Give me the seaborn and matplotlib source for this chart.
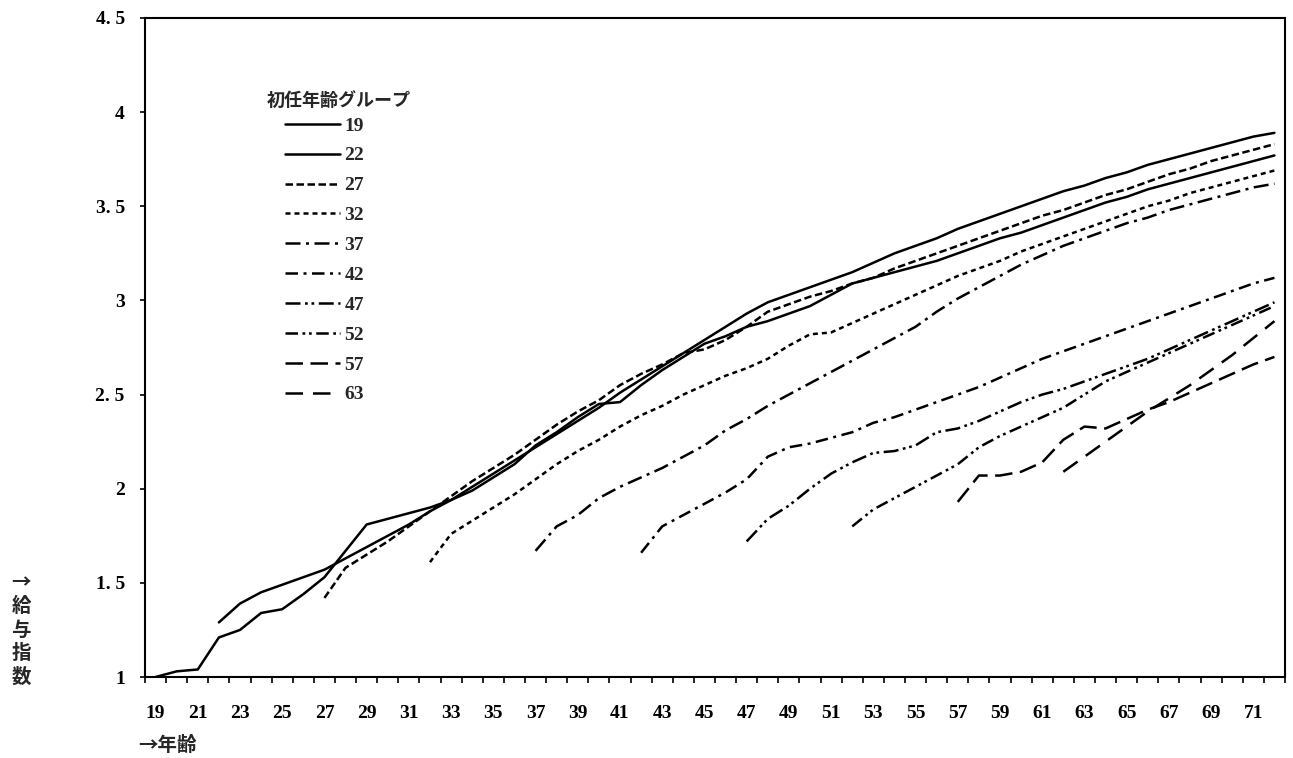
import numpy as np
import pandas as pd
import matplotlib
matplotlib.use("Agg")
import matplotlib.pyplot as plt
from matplotlib.ticker import FixedLocator
import seaborn as sns

# ---- data ----
groups = ["19", "22", "27", "32", "37", "42", "47", "52", "57", "63"]
start_ages = [19, 22, 27, 32, 37, 42, 47, 52, 57, 62]

s19 = [1.00, 1.03, 1.04, 1.21, 1.25, 1.34, 1.36, 1.44, 1.53, 1.67,
       1.81, 1.84, 1.87, 1.90, 1.94, 1.99, 2.06, 2.13, 2.23, 2.30,
       2.38, 2.45, 2.46, 2.55, 2.63, 2.70, 2.77, 2.81, 2.86, 2.89,
       2.93, 2.97, 3.03, 3.09, 3.12, 3.15, 3.18, 3.21, 3.25, 3.29,
       3.33, 3.36, 3.40, 3.44, 3.48, 3.52, 3.55, 3.59, 3.62, 3.65,
       3.68, 3.71, 3.74, 3.77]
s22 = [1.29, 1.39, 1.45, 1.49, 1.53, 1.57, 1.63, 1.69, 1.75, 1.81,
       1.88, 1.94, 2.01, 2.08, 2.15, 2.22, 2.29, 2.36, 2.43, 2.51,
       2.58, 2.65, 2.72, 2.79, 2.86, 2.93, 2.99, 3.03, 3.07, 3.11,
       3.15, 3.20, 3.25, 3.29, 3.33, 3.38, 3.42, 3.46, 3.50, 3.54,
       3.58, 3.61, 3.65, 3.68, 3.72, 3.75, 3.78, 3.81, 3.84, 3.87,
       3.89]
s27 = [1.42, 1.58, 1.65, 1.72, 1.80, 1.88, 1.96, 2.04, 2.11, 2.18,
       2.26, 2.34, 2.41, 2.47, 2.55, 2.61, 2.66, 2.72, 2.74, 2.79,
       2.86, 2.94, 2.98, 3.02, 3.05, 3.09, 3.12, 3.17, 3.21, 3.25,
       3.29, 3.33, 3.37, 3.41, 3.45, 3.48, 3.52, 3.56, 3.59, 3.63,
       3.67, 3.70, 3.74, 3.77, 3.80, 3.83]
s32 = [1.61, 1.76, 1.83, 1.90, 1.97, 2.05, 2.13, 2.20, 2.26, 2.33,
       2.39, 2.44, 2.50, 2.55, 2.60, 2.64, 2.69, 2.76, 2.82, 2.83,
       2.88, 2.93, 2.98, 3.03, 3.08, 3.13, 3.17, 3.21, 3.26, 3.30,
       3.34, 3.38, 3.42, 3.46, 3.50, 3.53, 3.57, 3.60, 3.63, 3.66,
       3.69]
s37 = [1.67, 1.80, 1.86, 1.95, 2.01, 2.06, 2.11, 2.17, 2.23, 2.31,
       2.37, 2.44, 2.50, 2.56, 2.62, 2.68, 2.74, 2.80, 2.86, 2.94,
       3.01, 3.07, 3.13, 3.19, 3.24, 3.29, 3.33, 3.37, 3.41, 3.44,
       3.48, 3.51, 3.54, 3.57, 3.60, 3.62]
s42 = [1.66, 1.80, 1.86, 1.92, 1.98, 2.05, 2.17, 2.22, 2.24, 2.27,
       2.30, 2.35, 2.38, 2.42, 2.46, 2.50, 2.54, 2.59, 2.64, 2.69,
       2.73, 2.77, 2.81, 2.85, 2.89, 2.93, 2.97, 3.01, 3.05, 3.09,
       3.12]
s47 = [1.72, 1.84, 1.91, 2.00, 2.08, 2.14, 2.19, 2.20, 2.23, 2.30,
       2.32, 2.36, 2.41, 2.46, 2.50, 2.53, 2.57, 2.61, 2.65, 2.69,
       2.74, 2.79, 2.84, 2.89, 2.94, 2.99]
s52 = [1.80, 1.89, 1.95, 2.01, 2.07, 2.13, 2.22, 2.28, 2.33, 2.38,
       2.43, 2.50, 2.57, 2.62, 2.67, 2.72, 2.77, 2.82, 2.87, 2.92,
       2.97]
s57 = [1.93, 2.07, 2.07, 2.09, 2.14, 2.26, 2.33, 2.32, 2.37, 2.42,
       2.46, 2.51, 2.56, 2.61, 2.66, 2.70]
s63 = [2.09, 2.17, 2.25, 2.33, 2.41, 2.48, 2.55, 2.63, 2.71, 2.80,
       2.89]

series = [s19, s22, s27, s32, s37, s42, s47, s52, s57, s63]
x_tick_labels = [str(a) for a in range(19, 72, 2)]
y_ticks = [1, 1.5, 2, 2.5, 3, 3.5, 4, 4.5]
y_tick_labels = ["1", "1. 5", "2", "2. 5", "3", "3. 5", "4", "4. 5"]

rows = []
for g, st, vals in zip(groups, start_ages, series):
    for i, v in enumerate(vals):
        rows.append({"group": g, "age": st + i, "value": v})
df = pd.DataFrame(rows)

# ---- style ----
sns.set_theme(style="white")
plt.rcParams['font.family'] = ['Liberation Serif', 'Noto Sans CJK JP']

W, H = 1293, 758
fig = plt.figure(figsize=(W / 100, H / 100), dpi=100)
ax = fig.add_axes([145 / W, 1 - 677 / H, (1285 - 145) / W, (677 - 18) / H])

dashes = {
    "19": "",
    "22": "",
    "27": (3, 1.4),
    "32": (2, 1.6),
    "37": (6, 2.2, 1.2, 2.2),
    "42": (5, 2.2, 1.2, 2.2),
    "47": (6, 1.8, 1.1, 1.5, 1.1, 1.8),
    "52": (5, 1.8, 1.1, 1.5, 1.1, 1.8),
    "57": (7, 3),
    "63": (7, 4),
}
palette = {g: "black" for g in groups}

sns.lineplot(data=df, x="age", y="value", hue="group", style="group",
             hue_order=groups, style_order=groups, palette=palette,
             dashes=dashes, linewidth=1.8, estimator=None, errorbar=None,
             ax=ax)

ax.set_xlim(18.5, 72.5)
ax.set_ylim(1, 4.5)
ax.set_xlabel("")
ax.set_ylabel("")

# x ticks: labels at odd ages, tick marks between categories
ax.xaxis.set_major_locator(FixedLocator(list(range(19, 72, 2))))
ax.set_xticklabels(x_tick_labels, fontweight="bold")
ax.xaxis.set_minor_locator(FixedLocator(list(np.arange(18.5, 73, 1.0))))
ax.tick_params(axis="x", which="major", length=0, pad=20, labelsize=14,
               colors="black")
ax.tick_params(axis="x", which="minor", length=4.5, width=1.2,
               direction="out", bottom=True, color="black")
ax.set_yticks(y_ticks)
ax.set_yticklabels(y_tick_labels, fontweight="bold")
ax.tick_params(axis="y", which="major", length=3.5, width=1.2,
               direction="out", left=True, pad=11, labelsize=14,
               colors="black")

for sp in ax.spines.values():
    sp.set_color("black")
    sp.set_linewidth(1.5)

# legend
handles, labels = ax.get_legend_handles_labels()
hl = [(h, l) for h, l in zip(handles, labels) if l in groups]
if ax.get_legend() is not None:
    ax.get_legend().remove()
leg = fig.legend([h for h, _ in hl], [l for _, l in hl],
                 loc="upper left", bbox_to_anchor=(285 / W, 1 - 117 / H),
                 bbox_transform=fig.transFigure, frameon=False,
                 borderpad=0, borderaxespad=0, handlelength=2.85,
                 handletextpad=0.2, labelspacing=0.63,
                 prop={"size": 14, "weight": "bold"})
for line in leg.get_lines():
    line.set_linewidth(1.8)
    line.set_color("black")

fig.text(267 / W, 1 - 100 / H, "初任年齢グループ", ha="left", va="center",
         fontsize=13, fontweight="bold", family=['Noto Sans CJK JP'])

# axis titles
fig.text(138 / W, 1 - 745 / H, "→年齢", ha="left", va="center",
         fontsize=14, fontweight="bold", family=['Noto Sans CJK JP'])
ylab_chars = ["→", "給", "与", "指", "数"]
for i, ch in enumerate(ylab_chars):
    fig.text(21 / W, 1 - (583 + i * 23.5) / H, ch, ha="center",
             va="center", fontsize=14, fontweight="bold",
             family=['Noto Sans CJK JP'])

fig.savefig("out.png", dpi=100, facecolor="white")
